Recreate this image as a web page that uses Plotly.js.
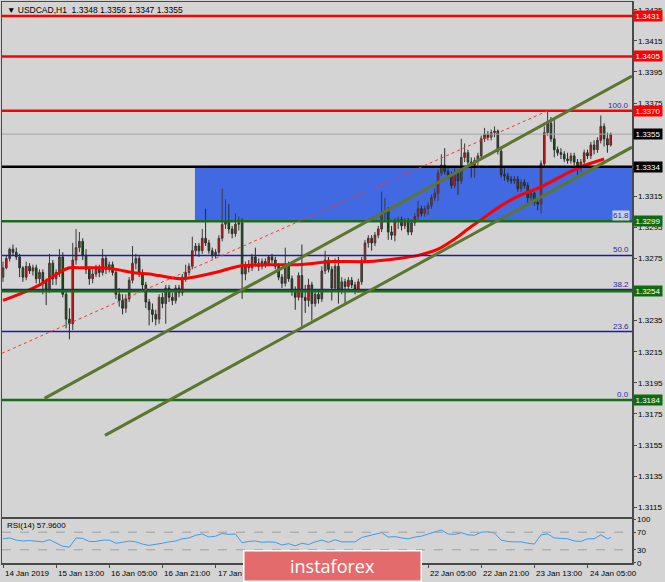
<!DOCTYPE html>
<html>
<head>
<meta charset="utf-8">
<script src="https://cdn.plot.ly/plotly-3.0.1.min.js"></script>
<style>html,body{margin:0;padding:0;background:#d4d4d4;}#chart{width:665px;height:582px;}</style>
</head>
<body>
<div id="chart"></div>
<script>
// ---- OHLC data (USDCAD H1), bar 0 = 14 Jan 2019 21:00 ----
const open = [1.3263,1.3269,1.3275,1.3281,1.3279,1.3276,1.3269,1.3263,1.3270,1.3267,1.3269,1.3262,1.3266,1.3260,1.3255,1.3272,1.3262,1.3266,1.3276,1.3252,
1.3236,1.3233,1.3274,1.3282,1.3286,1.3277,1.3268,1.3262,1.3265,1.3269,1.3266,1.3275,1.3268,1.3271,1.3266,1.3252,1.3248,1.3243,1.3249,1.3261,
1.3272,1.3275,1.3266,1.3258,1.3247,1.3242,1.3239,1.3236,1.3250,1.3246,1.3256,1.3250,1.3248,1.3256,1.3253,1.3263,1.3266,1.3270,1.3280,1.3283,
1.3280,1.3288,1.3285,1.3280,1.3277,1.3279,1.3288,1.3297,1.3299,1.3294,1.3291,1.3297,1.3298,1.3265,1.3271,1.3269,1.3276,1.3272,1.3270,1.3273,
1.3271,1.3276,1.3274,1.3270,1.3263,1.3259,1.3271,1.3262,1.3254,1.3250,1.3264,1.3250,1.3248,1.3258,1.3246,1.3252,1.3249,1.3267,1.3274,1.3268,
1.3256,1.3270,1.3255,1.3260,1.3257,1.3261,1.3258,1.3255,1.3260,1.3274,1.3285,1.3288,1.3285,1.3290,1.3294,1.3304,1.3306,1.3292,1.3290,1.3299,
1.3300,1.3296,1.3299,1.3292,1.3298,1.3302,1.3307,1.3304,1.3307,1.3309,1.3314,1.3317,1.3330,1.3335,1.3331,1.3329,1.3322,1.3330,1.3325,1.3340,
1.3343,1.3337,1.3335,1.3338,1.3341,1.3352,1.3355,1.3353,1.3356,1.3357,1.3344,1.3329,1.3328,1.3326,1.3325,1.3326,1.3320,1.3324,1.3322,1.3314,
1.3317,1.3311,1.3310,1.3336,1.3356,1.3362,1.3352,1.3345,1.3343,1.3342,1.3339,1.3338,1.3341,1.3337,1.3333,1.3337,1.3343,1.3341,1.3348,1.3345,
1.3351,1.3360,1.3352,1.3348];
const high = [1.3273,1.3277,1.3282,1.3284,1.3282,1.3278,1.3270,1.3273,1.3272,1.3271,1.3271,1.3268,1.3268,1.3262,1.3278,1.3274,1.3268,1.3281,1.3279,1.3254,
1.3243,1.3285,1.3294,1.3292,1.3288,1.3281,1.3270,1.3268,1.3271,1.3271,1.3281,1.3277,1.3273,1.3273,1.3268,1.3256,1.3252,1.3252,1.3263,1.3283,
1.3278,1.3277,1.3268,1.3260,1.3249,1.3246,1.3242,1.3252,1.3253,1.3258,1.3258,1.3253,1.3258,1.3258,1.3265,1.3271,1.3272,1.3289,1.3285,1.3285,
1.3294,1.3307,1.3287,1.3282,1.3281,1.3290,1.3320,1.3313,1.3310,1.3296,1.3304,1.3302,1.3301,1.3273,1.3274,1.3278,1.3282,1.3275,1.3275,1.3275,
1.3277,1.3278,1.3276,1.3272,1.3265,1.3282,1.3273,1.3264,1.3257,1.3266,1.3284,1.3258,1.3262,1.3260,1.3255,1.3254,1.3270,1.3280,1.3276,1.3270,
1.3275,1.3276,1.3263,1.3262,1.3263,1.3263,1.3260,1.3262,1.3276,1.3287,1.3290,1.3290,1.3292,1.3296,1.3318,1.3314,1.3308,1.3296,1.3301,1.3302,
1.3302,1.3301,1.3301,1.3300,1.3304,1.3312,1.3309,1.3309,1.3311,1.3316,1.3320,1.3332,1.3342,1.3346,1.3334,1.3331,1.3333,1.3332,1.3352,1.3349,
1.3345,1.3340,1.3340,1.3343,1.3354,1.3359,1.3357,1.3358,1.3360,1.3358,1.3346,1.3333,1.3330,1.3328,1.3328,1.3328,1.3326,1.3326,1.3324,1.3319,
1.3318,1.3314,1.3338,1.3360,1.3370,1.3366,1.3364,1.3347,1.3346,1.3344,1.3343,1.3343,1.3343,1.3339,1.3339,1.3345,1.3345,1.3350,1.3351,1.3353,
1.3367,1.3362,1.3356,1.3356];
const low = [1.3260,1.3268,1.3273,1.3277,1.3274,1.3263,1.3260,1.3261,1.3265,1.3264,1.3259,1.3259,1.3252,1.3245,1.3253,1.3258,1.3258,1.3263,1.3250,1.3230,
1.3223,1.3229,1.3271,1.3279,1.3274,1.3265,1.3258,1.3259,1.3263,1.3263,1.3264,1.3265,1.3266,1.3264,1.3249,1.3244,1.3239,1.3240,1.3247,1.3259,
1.3268,1.3263,1.3255,1.3243,1.3232,1.3234,1.3232,1.3233,1.3243,1.3233,1.3247,1.3245,1.3246,1.3250,1.3251,1.3260,1.3264,1.3268,1.3277,1.3276,
1.3278,1.3283,1.3278,1.3275,1.3275,1.3277,1.3286,1.3294,1.3291,1.3288,1.3289,1.3293,1.3249,1.3261,1.3266,1.3267,1.3270,1.3267,1.3268,1.3269,
1.3270,1.3272,1.3268,1.3261,1.3256,1.3257,1.3260,1.3251,1.3242,1.3248,1.3230,1.3240,1.3244,1.3235,1.3244,1.3246,1.3247,1.3265,1.3266,1.3248,
1.3254,1.3246,1.3252,1.3246,1.3255,1.3256,1.3252,1.3253,1.3258,1.3272,1.3282,1.3280,1.3283,1.3288,1.3292,1.3300,1.3287,1.3287,1.3286,1.3294,
1.3293,1.3294,1.3290,1.3290,1.3296,1.3300,1.3302,1.3302,1.3303,1.3307,1.3312,1.3312,1.3328,1.3329,1.3326,1.3320,1.3320,1.3316,1.3323,1.3337,
1.3335,1.3327,1.3327,1.3335,1.3339,1.3350,1.3351,1.3351,1.3353,1.3342,1.3327,1.3325,1.3324,1.3323,1.3323,1.3318,1.3318,1.3320,1.3309,1.3312,
1.3309,1.3306,1.3304,1.3334,1.3354,1.3350,1.3340,1.3341,1.3339,1.3337,1.3336,1.3336,1.3335,1.3329,1.3331,1.3335,1.3339,1.3339,1.3342,1.3343,
1.3349,1.3347,1.3343,1.3347];
const close = [1.3269,1.3275,1.3281,1.3279,1.3276,1.3269,1.3263,1.3270,1.3267,1.3269,1.3262,1.3266,1.3260,1.3255,1.3272,1.3262,1.3266,1.3276,1.3252,1.3236,
1.3233,1.3274,1.3282,1.3286,1.3277,1.3268,1.3262,1.3265,1.3269,1.3266,1.3275,1.3268,1.3271,1.3266,1.3252,1.3248,1.3243,1.3249,1.3261,1.3272,
1.3275,1.3266,1.3258,1.3247,1.3242,1.3239,1.3236,1.3250,1.3246,1.3256,1.3250,1.3248,1.3256,1.3253,1.3263,1.3266,1.3270,1.3280,1.3283,1.3280,
1.3288,1.3285,1.3280,1.3277,1.3279,1.3288,1.3297,1.3299,1.3294,1.3291,1.3297,1.3298,1.3265,1.3271,1.3269,1.3276,1.3272,1.3270,1.3273,1.3271,
1.3276,1.3274,1.3270,1.3263,1.3259,1.3271,1.3262,1.3254,1.3250,1.3264,1.3250,1.3248,1.3258,1.3246,1.3252,1.3249,1.3267,1.3274,1.3268,1.3256,
1.3270,1.3255,1.3260,1.3257,1.3261,1.3258,1.3255,1.3260,1.3274,1.3285,1.3288,1.3285,1.3290,1.3294,1.3304,1.3306,1.3292,1.3290,1.3299,1.3300,
1.3296,1.3299,1.3292,1.3298,1.3302,1.3307,1.3304,1.3307,1.3309,1.3314,1.3317,1.3330,1.3335,1.3331,1.3329,1.3322,1.3330,1.3325,1.3340,1.3343,
1.3337,1.3335,1.3338,1.3341,1.3352,1.3355,1.3353,1.3356,1.3357,1.3344,1.3329,1.3328,1.3326,1.3325,1.3326,1.3320,1.3324,1.3322,1.3314,1.3317,
1.3311,1.3310,1.3336,1.3356,1.3362,1.3352,1.3345,1.3343,1.3342,1.3339,1.3338,1.3341,1.3337,1.3333,1.3337,1.3343,1.3341,1.3348,1.3345,1.3351,
1.3360,1.3352,1.3348,1.3355];

// moving average (bar index, price)
const maBar = [0,5,11,14,17,20,24,29,34,39,44,47,54,64,71,80,89,99,110,119,125,131,137,140,144,150,155,162,170,174,181];
const maVal = [1.3248,1.3252,1.3258,1.3262,1.3266,1.3269,1.3269,1.3269,1.3268,1.3266,1.3265,1.3264,1.3262,1.3266,1.3270,1.3271,1.3271,1.3273,1.3273,1.3275,1.3277,1.3281,1.3289,1.3294,1.3300,1.3309,1.3315,1.3321,1.3330,1.3334,1.3339];

// RSI(14), every second bar, last = bar 183
const rsiVal = [55,57,52,50,51,49,48,53,46,38,36,57,56,49,49,52,52,45,47,50,48,43,40,42,45,48,50,55,57,63,66,59,61,67,65,66,46,49,50,47,48,47,41,44,39,45,
42,48,52,47,53,48,48,48,58,62,65,69,59,60,57,55,59,61,66,70,75,66,65,69,64,63,70,71,68,52,49,48,48,45,43,64,66,57,56,55,50,49,55,55,64,55,57.96];

// time axis labels (those fully hidden by the logo in the original are not drawn)
const tickBars = [0,16,32,48,64,80,96,112,128,144,160,176];
const tickText = ['14 Jan 2019','15 Jan 13:00','16 Jan 05:00','16 Jan 21:00','17 Jan 13:00','18 Jan 05:00','18 Jan 21:00','21 Jan 13:00','22 Jan 05:00','22 Jan 21:00','23 Jan 13:00','24 Jan 05:00'];
const tickHidden = [false,false,false,false,false,true,true,true,false,false,false,false];

// price axis ticks (labels under the level boxes are hidden, as in the original)
const priceTicks = [1.3115,1.3135,1.3155,1.3175,1.3195,1.3215,1.3235,1.3255,1.3275,1.3295,1.3315,1.3335,1.3355,1.3375,1.3395,1.3415,1.3435];
const priceTickText = ['1.3115','1.3135','1.3155','1.3175','1.3195','1.3215','1.3235','','1.3275','1.3295','1.3315','','','1.3375','1.3395','1.3415','1.3435'];

// horizontal levels
const redLevels = [1.3431,1.3405,1.3370];
const blackLevels = [1.3334];
const greenLevels = [1.3299,1.3254,1.3184];
const currentPrice = [1.3355];
const fibLevels = [1.3370,1.3299,1.3277,1.3255,1.3228,1.3184];
const fibNames = ['100.0','61.8','50.0','38.2','23.6','0.0'];

// zone and channel lines (bar index, price)
const zoneBars = [57.8,189.4];
const zonePrices = [1.3299,1.3334];
const upperChannelBars = [12.5,189.4];
const upperChannelPrices = [1.3185,1.33924];
const lowerChannelBars = [30.7,189.4];
const lowerChannelPrices = [1.31612,1.33466];
const fibDiagBars = [-0.3,164];
const fibDiagPrices = [1.3214,1.3370];

const bars = close.map((_, k) => k);
const rsiBar = rsiVal.map((_, k) => Math.min(2 * k, 183));
const FONT = 'Liberation Sans, Arial, sans-serif';

const traces = [
  {type:'candlestick', x:bars, open:open, high:high, low:low, close:close, xaxis:'x', yaxis:'y',
   increasing:{line:{color:'#3a3a3a', width:1}, fillcolor:'#ff0000'},
   decreasing:{line:{color:'#2a2a2a', width:1}, fillcolor:'#116611'},
   whiskerwidth:0, hoverinfo:'skip', showlegend:false},
  {type:'scatter', mode:'lines', x:maBar, y:maVal, xaxis:'x', yaxis:'y',
   line:{color:'#ff0000', width:3, shape:'spline', smoothing:0.8}, hoverinfo:'skip', showlegend:false},
  {type:'scatter', mode:'lines', x:rsiBar, y:rsiVal, xaxis:'x2', yaxis:'y2',
   line:{color:'#3d9bf0', width:1}, hoverinfo:'skip', showlegend:false}
];

const shapes = [];
shapes.push({type:'rect', xref:'x', yref:'y', x0:zoneBars[0], x1:zoneBars[1], y0:zonePrices[0], y1:zonePrices[1],
  fillcolor:'#4169e1', line:{width:0}, layer:'below'});
fibLevels.forEach(p => shapes.push({type:'line', xref:'x domain', yref:'y', x0:0, x1:1, y0:p, y1:p, line:{color:'#1c1c9c', width:1.5}}));
currentPrice.forEach(p => shapes.push({type:'line', xref:'x domain', yref:'y', x0:0, x1:1, y0:p, y1:p, line:{color:'#a6a6a6', width:1}}));
redLevels.forEach(p => shapes.push({type:'line', xref:'x domain', yref:'y', x0:0, x1:1, y0:p, y1:p, line:{color:'#ff0000', width:2.5}}));
blackLevels.forEach(p => shapes.push({type:'line', xref:'x domain', yref:'y', x0:0, x1:1, y0:p, y1:p, line:{color:'#000000', width:2.5}}));
greenLevels.forEach(p => shapes.push({type:'line', xref:'x domain', yref:'y', x0:0, x1:1, y0:p, y1:p, line:{color:'#1b6b1b', width:2.5}}));
shapes.push({type:'line', xref:'x', yref:'y', x0:fibDiagBars[0], x1:fibDiagBars[1], y0:fibDiagPrices[0], y1:fibDiagPrices[1], line:{color:'#ff3030', width:1, dash:'dot'}});
shapes.push({type:'line', xref:'x', yref:'y', x0:upperChannelBars[0], x1:upperChannelBars[1], y0:upperChannelPrices[0], y1:upperChannelPrices[1], line:{color:'#5c7530', width:3}});
shapes.push({type:'line', xref:'x', yref:'y', x0:lowerChannelBars[0], x1:lowerChannelBars[1], y0:lowerChannelPrices[0], y1:lowerChannelPrices[1], line:{color:'#5c7530', width:3}});
[30,70].forEach(v => shapes.push({type:'line', xref:'x2 domain', yref:'y2', x0:0, x1:1, y0:v, y1:v, line:{color:'#a0a0a0', width:1, dash:'dash'}}));

const annotations = [];
const boxes = [];
redLevels.forEach(p => boxes.push([p,'#ff0000']));
currentPrice.forEach(p => boxes.push([p,'#000000']));
blackLevels.forEach(p => boxes.push([p,'#000000']));
greenLevels.forEach(p => boxes.push([p,'#0f6a0f']));
boxes.forEach(([p,c]) => annotations.push({xref:'paper', yref:'y', x:1, y:p, xanchor:'left', yanchor:'middle', xshift:1,
  text:p.toFixed(4), showarrow:false, bgcolor:c, borderpad:0, width:28, height:10,
  font:{family:FONT, size:8, color:'#ffffff'}}));
fibLevels.forEach((p,k) => annotations.push({xref:'paper', yref:'y', x:0.997, y:p, xanchor:'right', yanchor:'bottom',
  text:fibNames[k], showarrow:false, font:{family:FONT, size:8, color:'#2a2aa0'}, borderpad:0,
  bgcolor: fibNames[k]==='61.8' ? '#c8d0e8' : 'rgba(0,0,0,0)'}));
tickBars.forEach((b,k) => { if (!tickHidden[k]) annotations.push({xref:'x2', yref:'paper', x:b, y:0, xanchor:'left', yanchor:'top', yshift:-4,
  text:tickText[k], showarrow:false, font:{family:FONT, size:8, color:'#000'}}); });
annotations.push({xref:'paper', yref:'paper', x:0.004, y:1, xanchor:'left', yanchor:'top', yshift:-1,
  text:'▼ USDCAD,H1  1.3348 1.3356 1.3347 1.3355', showarrow:false, font:{family:FONT, size:8.5, color:'#000'}});
annotations.push({xref:'paper', yref:'y2 domain', x:0.004, y:1, xanchor:'left', yanchor:'top',
  text:'RSI(14) 57.9600', showarrow:false, font:{family:FONT, size:8, color:'#000'}});
annotations.push({xref:'paper', yref:'paper', x:0.525, y:-0.0045, xanchor:'center', yanchor:'middle',
  text:'instaforex', showarrow:false, bgcolor:'#e36b6b', bordercolor:'#ffffff', borderwidth:1.5, borderpad:1,
  width:174, height:27, font:{family:'Open Sans, sans-serif', size:18, color:'#ffffff'}});

const layout = {
  width:665, height:582,
  margin:{l:2, r:33, t:2, b:19},
  paper_bgcolor:'#d4d4d4', plot_bgcolor:'#d4d4d4',
  showlegend:false, hovermode:false, dragmode:false,
  xaxis:{domain:[0,1], anchor:'y', range:[-0.3,189.4], showgrid:false, zeroline:false,
    showline:true, mirror:true, linecolor:'#4a4a4a', linewidth:1.5, showticklabels:false, ticks:'',
    rangeslider:{visible:false}, fixedrange:true},
  xaxis2:{domain:[0,1], anchor:'y2', matches:'x', range:[-0.3,189.4], showgrid:false, zeroline:false,
    showline:true, mirror:true, linecolor:'#4a4a4a', linewidth:1.5,
    tickmode:'array', tickvals:tickBars, ticks:'outside', ticklen:3, tickcolor:'#4a4a4a',
    showticklabels:false, fixedrange:true},
  yaxis:{domain:[0.082,1], anchor:'x', side:'right', range:[1.31087,1.3440], showgrid:false, zeroline:false,
    showline:true, mirror:true, linecolor:'#4a4a4a', linewidth:1.5,
    tickmode:'array', tickvals:priceTicks, ticktext:priceTickText,
    ticks:'outside', ticklen:3, tickcolor:'#4a4a4a', tickfont:{family:FONT, size:8, color:'#000'}, fixedrange:true},
  yaxis2:{domain:[0,0.0784], anchor:'x2', side:'right', range:[0,100], showgrid:false, zeroline:false,
    showline:true, mirror:true, linecolor:'#4a4a4a', linewidth:1.5,
    tickmode:'array', tickvals:[0,30,70,100], ticktext:['0','30','70','100'],
    ticks:'outside', ticklen:2, tickcolor:'#4a4a4a', tickfont:{family:FONT, size:8, color:'#000'}, fixedrange:true},
  shapes:shapes,
  annotations:annotations
};

Plotly.newPlot('chart', traces, layout, {displayModeBar:false, staticPlot:true});
</script>
</body>
</html>
